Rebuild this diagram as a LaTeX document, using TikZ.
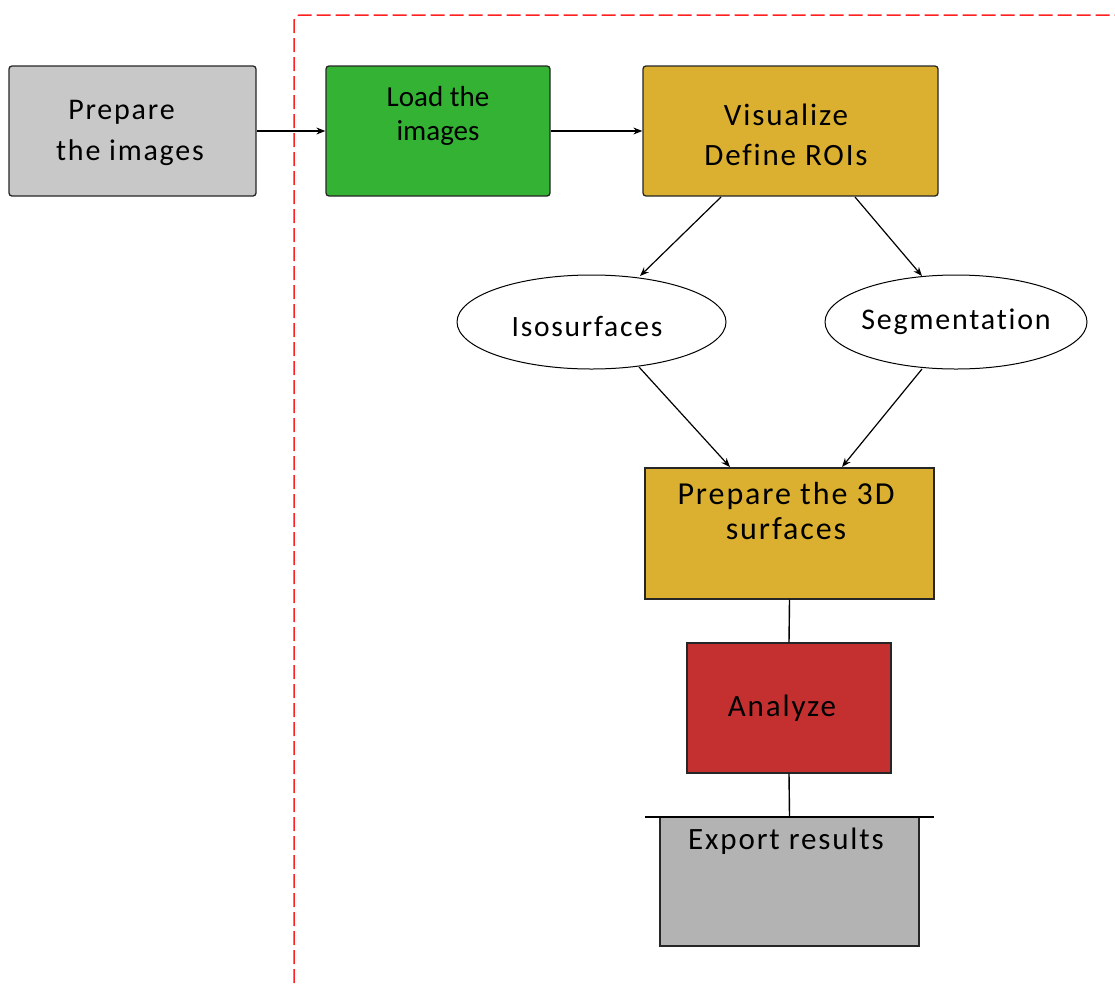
\documentclass[tikz,border=0pt]{standalone}
\usepackage{fontspec}
\setmainfont{Carlito}[Ligatures=NoCommon]
\newfontfamily\spaced[LetterSpace=6,Ligatures=NoCommon]{Carlito}
\usetikzlibrary{arrows.meta,shapes.geometric}
\definecolor{boxgray}{HTML}{C8C8C8}
\definecolor{boxgreen}{HTML}{33B233}
\definecolor{boxgold}{HTML}{DBB030}
\definecolor{boxred}{HTML}{C43030}
\definecolor{boxgray2}{HTML}{B3B3B3}
\definecolor{dashred}{HTML}{FF2020}
\tikzset{
  box/.style={draw=black!85, line width=1.3pt, inner sep=0pt},
  rbox/.style={box, rounded corners=3pt},
  oval/.style={draw=black, line width=1pt, ellipse, fill=white, inner sep=0pt},
  lbl/.style={font=\spaced\fontsize{31}{40}\selectfont, align=center, inner sep=0pt},
  arr/.style={line width=1.2pt, -{Stealth[length=9pt,width=7pt]}},
  conn/.style={line width=1.4pt}
}
\begin{document}
\begin{tikzpicture}[x=1pt,y=-1pt]
\useasboundingbox (0,0) rectangle (1115,983);
% dashed frame
\draw[dashred, line width=1.5pt, dash pattern=on 14pt off 5pt, rounded corners=6pt]
  (294,983) -- (294,15) -- (1115,15);
% boxes
\node[rbox, fill=boxgray, minimum width=247pt, minimum height=130pt] (prep) at (132.5,131) {};
\node[rbox, fill=boxgreen, minimum width=224pt, minimum height=130pt] (load) at (438,131) {};
\node[rbox, fill=boxgold, minimum width=295pt, minimum height=130pt] (vis) at (790.5,131) {};
\node[oval, minimum width=269pt, minimum height=94pt] (iso) at (591.5,322) {};
\node[oval, minimum width=262pt, minimum height=94pt] (seg) at (956,322) {};
\node[box, fill=boxgold, minimum width=289pt, minimum height=131pt] (surf) at (789.5,533.5) {};
\node[box, fill=boxred, minimum width=204pt, minimum height=130pt] (ana) at (789,708) {};
\node[box, fill=boxgray2, minimum width=259pt, minimum height=129pt] (exp) at (789.5,881.5) {};
% texts
\node[lbl, font=\spaced\fontsize{30}{41}\selectfont] (tprep) at (130,133) {Prepare\hspace*{17pt}\\the images};
\node[lbl, font=\fontsize{29}{34}\selectfont] (tload) at (438,116) {Load the\\images};
\node[lbl, font=\spaced\fontsize{31}{40}\selectfont] (tvis) at (786,135) {Visualize\\Define ROIs};
\node[lbl, font=\spaced\fontsize{29.5}{40}\selectfont] (tiso) at (587,326) {Isosurfaces};
\node[lbl, font=\spaced\fontsize{30}{40}\selectfont] (tseg) at (956,322) {Segmentation};
\node[lbl, font=\spaced\fontsize{32}{35}\selectfont] (tsurf) at (786,511) {Prepare the 3D\\surfaces};
\node[lbl] (tana) at (782,708) {Analyze};
\node[lbl] (texp) at (786,841) {Export results};
% connector end points
\coordinate (va) at (721,197);
\coordinate (vb) at (855,197);
\coordinate (ia) at (640,276);
\coordinate (sa) at (922,276);
\coordinate (ib) at (639,367);
\coordinate (sb) at (922,369);
\coordinate (fa) at (730,467);
\coordinate (fb) at (842,467);
\coordinate (el) at (645,817);
\coordinate (er) at (934,817);
% connectors
\draw[arr] (prep.east) -- (load.west);
\draw[arr] (load.east) -- (vis.west);
\draw[arr] (va) -- (ia);
\draw[arr] (vb) -- (sa);
\draw[arr] (ib) -- (fa);
\draw[arr] (sb) -- (fb);
\draw[conn] (surf.south) -- (ana.north);
\draw[conn] (ana.south) -- (exp.north);
\draw[conn] (el) -- (er);
\end{tikzpicture}
\end{document}
